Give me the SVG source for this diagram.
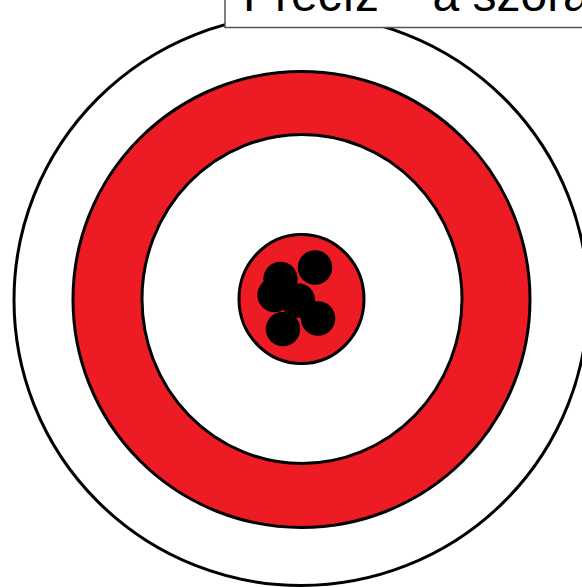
<svg xmlns="http://www.w3.org/2000/svg" width="582" height="587" viewBox="0 0 582 587">
<style>
.ring{stroke:#000;stroke-width:3}
.red{fill:#ED1C24}
.white{fill:#fff}
.hit{fill:#000}
.lbl{font-family:"Liberation Sans",Arial,sans-serif;font-size:48px;fill:#000}
</style>
<rect width="582" height="587" fill="#fff"/>
<g id="target">
<ellipse class="ring white" cx="301" cy="300" rx="287" ry="285.5"/>
<ellipse class="ring red" cx="301.5" cy="299.5" rx="228.5" ry="228"/>
<ellipse class="ring white" cx="302" cy="299" rx="160" ry="164.5"/>
<ellipse class="ring red" cx="301.5" cy="299" rx="62.5" ry="64.5"/>
</g>
<g id="hits">
<circle class="hit" cx="315" cy="267.5" r="17.3"/>
<circle class="hit" cx="280.5" cy="279" r="17.2"/>
<circle class="hit" cx="274.5" cy="295" r="17.2"/>
<circle class="hit" cx="298" cy="300.5" r="17.2"/>
<circle class="hit" cx="318" cy="318.5" r="17.3"/>
<circle class="hit" cx="283" cy="329" r="17.3"/>
</g>
<g id="label">
<rect x="225" y="-20" width="380" height="47.5" fill="#fff" stroke="#555" stroke-width="1.5"/>
<text class="lbl" x="243" y="11">Precíz – a szórás</text>
</g>
</svg>
